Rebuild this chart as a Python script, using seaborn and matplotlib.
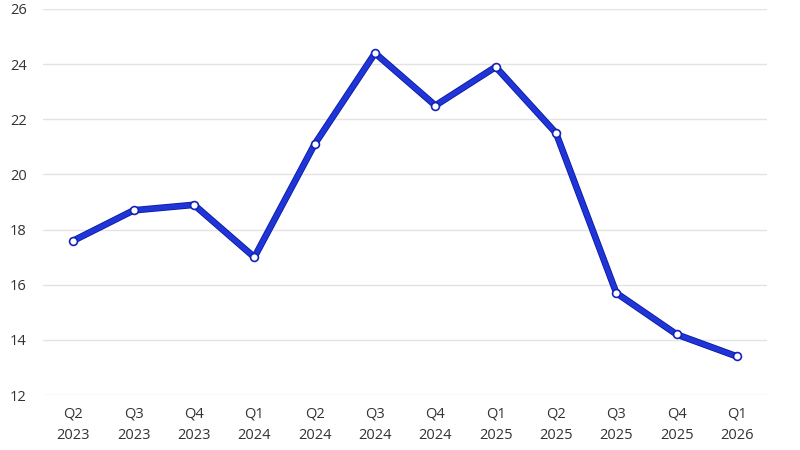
import matplotlib
matplotlib.use("Agg")
import matplotlib.pyplot as plt
import matplotlib.patheffects as pe
import seaborn as sns
import pandas as pd

quarters = ["Q2\n2023", "Q3\n2023", "Q4\n2023", "Q1\n2024", "Q2\n2024", "Q3\n2024",
            "Q4\n2024", "Q1\n2025", "Q2\n2025", "Q3\n2025", "Q4\n2025", "Q1\n2026"]
values = [17.6, 18.7, 18.9, 17.0, 21.1, 24.4, 22.5, 23.9, 21.5, 15.7, 14.2, 13.4]
y_ticks = [12, 14, 16, 18, 20, 22, 24, 26]

sns.set_theme(style="white")
plt.rcParams['font.family'] = ['Open Sans', 'DejaVu Sans']

df = pd.DataFrame({"x": range(len(quarters)), "v": values})

fig = plt.figure(figsize=(8, 4.5), dpi=100)
ax = fig.add_axes([0.054, 0.122, 0.905, 0.858])

sns.lineplot(data=df, x="x", y="v", ax=ax, color="#1f35d8", linewidth=3.6, zorder=3,
             path_effects=[pe.Stroke(linewidth=4.8, foreground="#0c1a9c"), pe.Normal()])
sns.scatterplot(data=df, x="x", y="v", ax=ax, s=32, color="white",
                edgecolor="#1424b8", linewidth=1.2, zorder=4)

ax.set_xlim(-0.5, len(quarters) - 0.5)
ax.set_ylim(12, 26)
ax.set_yticks(y_ticks)
ax.set_xticks(range(len(quarters)))
ax.set_xticklabels(quarters, linespacing=1.6)
ax.grid(axis="y", color="#e3e3e3", linewidth=1.0)
ax.set_axisbelow(True)
for s in ax.spines.values():
    s.set_visible(False)
ax.tick_params(axis="both", length=0, labelsize=10.5, colors="#333333")
ax.tick_params(axis="y", pad=12)
ax.tick_params(axis="x", pad=8)
ax.set_xlabel("")
ax.set_ylabel("")

fig.savefig("out.png", dpi=100)
